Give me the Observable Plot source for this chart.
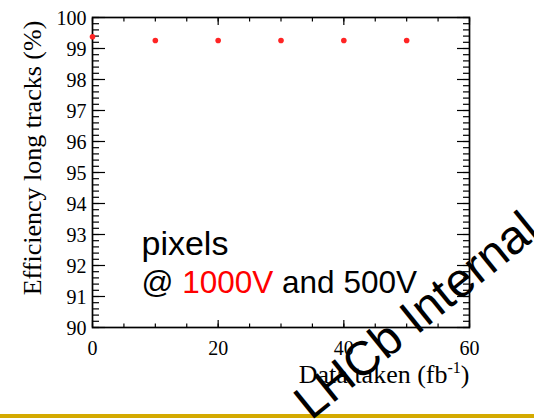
<!DOCTYPE html>
<html>
<head>
<meta charset="utf-8">
<script src="https://cdn.jsdelivr.net/npm/d3@7"></script>
<script src="https://cdn.jsdelivr.net/npm/@observablehq/plot@0.6"></script>
<style>
  body { margin: 0; background: #fff; }
  #chart { width: 534px; height: 420px; overflow: hidden; }
</style>
</head>
<body>
<div id="chart"></div>
<script>
// Integrated luminosity (fb^-1) and long-track efficiency (%)
const dataTaken = [0, 10, 20, 30, 40, 50];
const efficiency = [99.38, 99.26, 99.26, 99.26, 99.26, 99.26];

// Axis ticks
const xLabelTicks = [0, 20, 40, 60];
const xMinorTicks = [0, 5, 10, 15, 20, 25, 30, 35, 40, 45, 50, 55, 60];
const yLabelTicks = [90, 91, 92, 93, 94, 95, 96, 97, 98, 99, 100];
const yMinorTicks = d3.range(0, 51).map(i => 90 + i * 0.2);

// Text
const yTitle = "Efficiency long tracks (%)";
const xTitle = "Data taken (fb-1)";
const noteLine1 = "pixels";
const noteLine2 = "@ 1000V and 500V";
const watermark = "LHCb Internal";

const points = dataTaken.map((x, i) => ({x, y: efficiency[i]}));

const serif = "Liberation Serif, Times New Roman, serif";
const sans = "Liberation Sans, Arial, sans-serif";
const blank = () => "";

const chart = Plot.plot({
  width: 534,
  height: 420,
  marginLeft: 92,
  marginRight: 65,
  marginTop: 17,
  marginBottom: 93,
  style: {background: "white", overflow: "hidden", fontFamily: serif},
  x: {domain: [0, 60], label: null},
  y: {domain: [90, 100], label: null},
  marks: [
    // inward tick marks on all four sides
    Plot.axisX({anchor: "bottom", ticks: xMinorTicks, tickSize: 3.5, dy: -3.5, tickFormat: blank, label: null, strokeWidth: 1.2}),
    Plot.axisX({anchor: "bottom", ticks: xLabelTicks, tickSize: 7, dy: -7, tickFormat: blank, label: null, strokeWidth: 1.2}),
    Plot.axisX({anchor: "top", ticks: xMinorTicks, tickSize: 3.5, dy: 3.5, tickFormat: blank, label: null, strokeWidth: 1.2}),
    Plot.axisX({anchor: "top", ticks: xLabelTicks, tickSize: 7, dy: 7, tickFormat: blank, label: null, strokeWidth: 1.2}),
    Plot.axisY({anchor: "left", ticks: yMinorTicks, tickSize: 7, dx: 7, tickFormat: blank, label: null, strokeWidth: 1.2}),
    Plot.axisY({anchor: "left", ticks: yLabelTicks, tickSize: 13, dx: 13, tickFormat: blank, label: null, strokeWidth: 1.2}),
    Plot.axisY({anchor: "right", ticks: yMinorTicks, tickSize: 7, dx: -7, tickFormat: blank, label: null, strokeWidth: 1.2}),
    Plot.axisY({anchor: "right", ticks: yLabelTicks, tickSize: 13, dx: -13, tickFormat: blank, label: null, strokeWidth: 1.2}),
    // tick labels
    Plot.axisX({anchor: "bottom", ticks: xLabelTicks, tickSize: 0, tickPadding: 13, label: null, fontSize: 20, fontFamily: serif, fill: "black"}),
    Plot.axisY({anchor: "left", ticks: yLabelTicks, tickSize: 0, tickPadding: 6, dy: 1.5, label: null, fontSize: 20, fontFamily: serif, fill: "black"}),
    Plot.frame({stroke: "black", strokeWidth: 1.7}),
    // measurements
    Plot.dot(points, {x: "x", y: "y", r: 2.8, fill: "#ff2424", stroke: null, clip: false}),
    // axis titles
    Plot.text([yTitle], {text: d => d, frameAnchor: "left", rotate: -90, dx: -52, dy: -14.5,
      textAnchor: "middle", lineAnchor: "bottom", fontSize: 26, fontFamily: serif, fill: "black"}),
    Plot.text([xTitle], {text: d => d, frameAnchor: "bottom-right", dy: 55,
      textAnchor: "end", lineAnchor: "bottom", fontSize: 26, fontFamily: serif, fill: "black"}),
    // annotation
    Plot.text([noteLine1], {text: d => d, frameAnchor: "bottom-left", dx: 49, dy: -73,
      textAnchor: "start", lineAnchor: "bottom", fontSize: 34, fontFamily: sans, fill: "black"}),
    Plot.text([noteLine2], {text: d => d, frameAnchor: "bottom-left", dx: 49, dy: -35,
      textAnchor: "start", lineAnchor: "bottom", fontSize: 31.5, fontFamily: sans, fill: "black"}),
    // watermark
    Plot.text([watermark], {text: d => d, frameAnchor: "bottom-left", dx: 218.5, dy: 93.5, rotate: -39,
      textAnchor: "start", lineAnchor: "bottom", fontSize: 48, fontFamily: sans, fill: "black"})
  ]
});

const svg = d3.select(chart);
const findText = s => svg.selectAll("text").filter(function() { return this.textContent === s; });

// superscript for fb^-1
const xt = findText(xTitle);
xt.text(null);
xt.append("tspan").text("Data taken (fb");
xt.append("tspan").attr("dy", -10).attr("font-size", 16).text("-1");
xt.append("tspan").attr("dy", 10).text(")");

// highlight the 1000V setting in red
const nt = findText(noteLine2);
nt.text(null);
nt.append("tspan").text("@ ");
nt.append("tspan").attr("fill", "#ff0000").text("1000V");
nt.append("tspan").text(" and 500V");

// gold rule along the bottom
svg.insert("rect", ":first-child")
  .attr("x", 0).attr("y", 414).attr("width", 534).attr("height", 4)
  .attr("fill", "#d4aa00");

document.getElementById("chart").appendChild(chart);
</script>
</body>
</html>
